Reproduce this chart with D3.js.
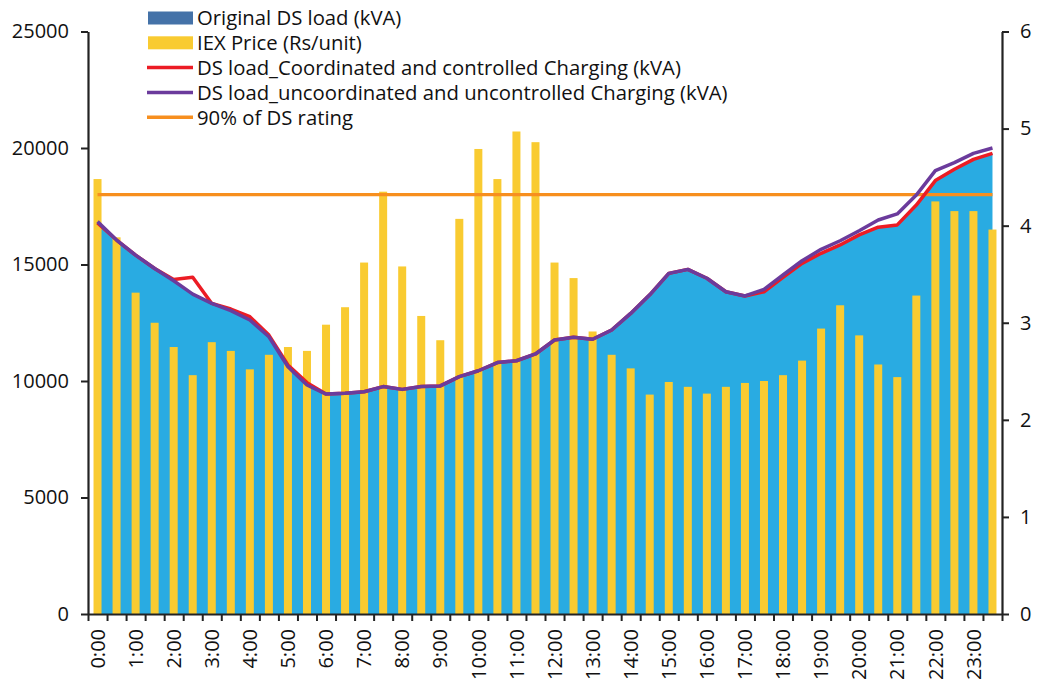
<!DOCTYPE html>
<html>
<head>
<meta charset="utf-8">
<script src="https://cdn.jsdelivr.net/npm/d3@7"></script>
<style>
  html, body { margin: 0; padding: 0; background: #fff; }
  svg text { font-family: "Open Sans", "Noto Sans", sans-serif; fill: #111; }
</style>
</head>
<body>
<svg id="chart" width="1038" height="686"></svg>
<script>
// Half-hourly time slots
const times = ["0:00","0:30","1:00","1:30","2:00","2:30","3:00","3:30","4:00","4:30","5:00","5:30",
  "6:00","6:30","7:00","7:30","8:00","8:30","9:00","9:30","10:00","10:30","11:00","11:30",
  "12:00","12:30","13:00","13:30","14:00","14:30","15:00","15:30","16:00","16:30","17:00","17:30",
  "18:00","18:30","19:00","19:30","20:00","20:30","21:00","21:30","22:00","22:30","23:00","23:30"];

// Original DS load (kVA)
const originalLoad = [16780,16050,15400,14830,14300,13730,13330,13020,12620,11900,10610,9830,
  9440,9470,9540,9760,9640,9760,9790,10190,10440,10790,10870,11160,
  11760,11880,11790,12190,12900,13700,14620,14790,14410,13830,13650,13830,
  14450,15050,15480,15840,16270,16600,16700,17550,18600,19090,19510,19770];

// IEX price (Rs/unit)
const iexPrice = [4.48,3.88,3.31,3.00,2.75,2.46,2.80,2.71,2.52,2.67,2.75,2.71,
  2.98,3.16,3.62,4.35,3.58,3.07,2.82,4.07,4.79,4.48,4.97,4.86,
  3.62,3.46,2.91,2.67,2.53,2.26,2.39,2.34,2.27,2.34,2.38,2.40,
  2.46,2.61,2.94,3.18,2.87,2.57,2.44,3.28,4.25,4.15,4.15,3.96];

// DS load with coordinated and controlled charging (kVA)
const coordinatedLoad = [16780,16050,15400,14830,14360,14450,13330,13090,12760,11970,10690,9930,
  9440,9470,9540,9760,9640,9760,9790,10190,10440,10790,10870,11160,
  11760,11880,11790,12190,12900,13700,14620,14790,14410,13830,13650,13830,
  14450,15050,15480,15840,16270,16600,16700,17550,18600,19090,19510,19770];

// DS load with uncoordinated and uncontrolled charging (kVA)
const uncoordinatedLoad = [16840,16050,15400,14830,14300,13730,13330,13020,12620,11900,10610,9830,
  9440,9470,9540,9760,9640,9760,9790,10190,10440,10790,10870,11160,
  11760,11880,11790,12190,12900,13700,14620,14790,14410,13830,13650,13930,
  14550,15160,15650,16020,16450,16910,17170,17980,19030,19370,19770,20000];

// 90% of DS rating (kVA)
const dsLimit = times.map(() => 18000);

const leftTicks = [0,5000,10000,15000,20000,25000];
const rightTicks = [0,1,2,3,4,5,6];
const hourLabels = times.filter(t => t.endsWith(":00"));

const svg = d3.select("#chart");
const plot = { left: 88, right: 1002, top: 31.5, bottom: 614 };

const x = d3.scaleBand().domain(times).range([plot.left, plot.right]).padding(0);
const bw = x.bandwidth();
const cx = t => x(t) + bw / 2;
const yL = d3.scaleLinear().domain([0, 25000]).range([plot.bottom, plot.top]);
const yR = d3.scaleLinear().domain([0, 6]).range([plot.bottom, plot.top]);

// Original load area
svg.append("path")
  .datum(times.map((t, i) => ({ t, v: originalLoad[i] })))
  .attr("fill", "#29abe2")
  .attr("d", d3.area().x(d => cx(d.t)).y0(yL(0)).y1(d => yL(d.v)));

// Price bars on secondary axis
const barW = bw * 0.42;
svg.append("g").selectAll("rect")
  .data(times.map((t, i) => ({ t, v: iexPrice[i] })))
  .join("rect")
  .attr("x", d => cx(d.t) - barW / 2)
  .attr("width", barW)
  .attr("y", d => yR(d.v))
  .attr("height", d => yR(0) - yR(d.v))
  .attr("fill", "#f9cb31");

// Load lines
const line = d3.line().x(d => cx(d.t)).y(d => yL(d.v));
function drawLine(values, color, width) {
  svg.append("path")
    .datum(times.map((t, i) => ({ t, v: values[i] })))
    .attr("fill", "none")
    .attr("stroke", color)
    .attr("stroke-width", width)
    .attr("stroke-linejoin", "round")
    .attr("d", line);
}
drawLine(dsLimit, "#f78f1e", 3.2);
drawLine(coordinatedLoad, "#ec1c24", 3.5);
drawLine(uncoordinatedLoad, "#6b3b9c", 3.5);

// Axes
const axisColor = "#222";
const fontSize = "20px";

const gL = svg.append("g").attr("transform", `translate(${plot.left},0)`)
  .call(d3.axisLeft(yL).tickValues(leftTicks).tickFormat(d3.format("d"))
    .tickSize(7).tickPadding(12).tickSizeOuter(0));
const gR = svg.append("g").attr("transform", `translate(${plot.right},0)`)
  .call(d3.axisRight(yR).tickValues(rightTicks).tickFormat(d3.format("d"))
    .tickSize(7).tickPadding(11).tickSizeOuter(0));

// Boundary ticks between time slots
const xIdx = d3.scaleLinear().domain([0, times.length]).range([plot.left, plot.right]);
const gXT = svg.append("g").attr("transform", `translate(0,${plot.bottom})`)
  .call(d3.axisBottom(xIdx).tickValues(d3.range(times.length + 1)).tickSize(7).tickFormat("").tickSizeOuter(0));

// Hour labels
const gX = svg.append("g").attr("transform", `translate(0,${plot.bottom})`)
  .call(d3.axisBottom(x).tickValues(hourLabels).tickSize(0).tickPadding(0));
gX.select(".domain").remove();
gX.selectAll(".tick text")
  .attr("transform", "translate(0,15) rotate(-90)")
  .attr("x", 0).attr("y", 0).attr("dy", "0.36em")
  .attr("text-anchor", "end");

[gL, gR, gXT, gX].forEach(g => {
  g.selectAll(".domain").attr("stroke", axisColor).attr("stroke-width", 2.2);
  g.selectAll(".tick line").attr("stroke", axisColor).attr("stroke-width", 2);
  g.selectAll(".tick text").style("font-size", fontSize).attr("fill", "#111")
    .style("font-family", "'Open Sans', 'Noto Sans', sans-serif");
});

// Legend
const legendItems = [
  { label: "Original DS load (kVA)", color: "#4472a8", type: "rect" },
  { label: "IEX Price (Rs/unit)", color: "#f9cb31", type: "rect" },
  { label: "DS load_Coordinated and controlled Charging (kVA)", color: "#ec1c24", type: "line" },
  { label: "DS load_uncoordinated and uncontrolled Charging (kVA)", color: "#6b3b9c", type: "line" },
  { label: "90% of DS rating", color: "#f78f1e", type: "line" }
];
const lg = svg.append("g");
legendItems.forEach((d, i) => {
  const yc = 18 + i * 24.8;
  if (d.type === "rect") {
    lg.append("rect").attr("x", 148).attr("y", yc - 6.5).attr("width", 45).attr("height", 13).attr("fill", d.color);
  } else {
    lg.append("line").attr("x1", 147).attr("x2", 193).attr("y1", yc).attr("y2", yc)
      .attr("stroke", d.color).attr("stroke-width", 3.5);
  }
  lg.append("text").attr("x", 197).attr("y", yc).attr("dy", "0.36em")
    .style("font-size", "20.3px").text(d.label);
});
</script>
</body>
</html>
